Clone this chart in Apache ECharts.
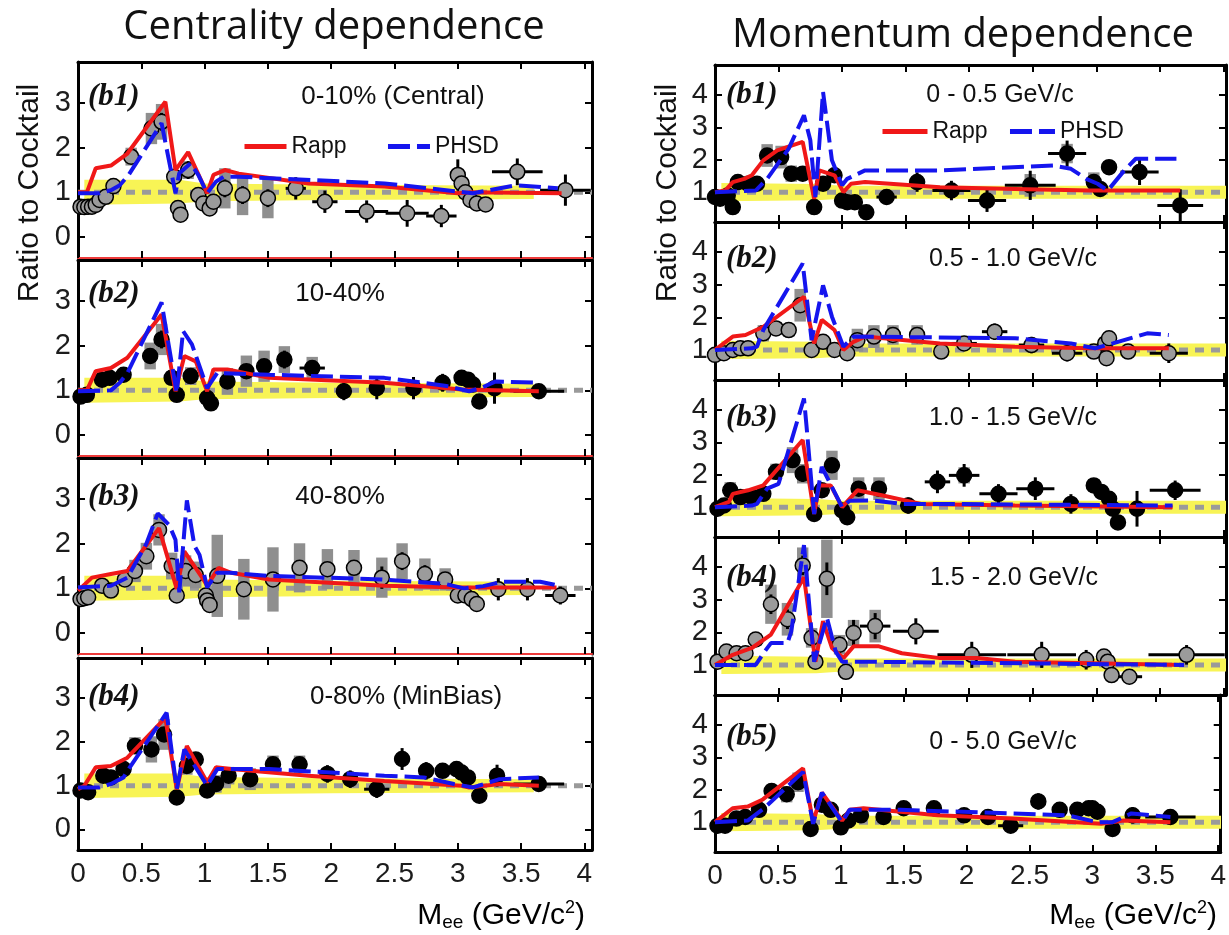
<!DOCTYPE html>
<html>
<head>
    <meta charset="UTF-8">
    <title>Ratio to Cocktail</title>
    <script src="https://cdn.jsdelivr.net/npm/echarts@6/dist/echarts.min.js"></script>
    <style>
        html, body { margin: 0; padding: 0; background: #fff; }
        #main { width: 1229px; height: 935px; }
    </style>
</head>
<body>
<div id="main"></div>
<script type="text/javascript">
    // ---- data: [x, y, xErr, yErr, sysHalf] ----
    var cB1Pts = [[0.02,0.68,0,0.05,0],[0.05,0.67,0,0.05,0],[0.08,0.68,0,0.05,0],[0.11,0.68,0,0.05,0],[0.14,0.72,0,0.05,0],
        [0.17,0.83,0,0.06,0.08],[0.22,0.9,0,0.08,0.1],[0.28,1.14,0,0.08,0.1],[0.42,1.8,0,0.1,0.2],[0.58,2.43,0,0.15,0.35],[0.66,2.58,0,0.2,0.4],
        [0.76,1.35,0,0.15,0.15],[0.79,0.65,0,0.1,0.05],[0.81,0.5,0,0.1,0.05],[0.87,1.5,0,0.2,0.2],[0.95,0.94,0,0.1,0.1],[0.99,0.75,0,0.1,0.1],
        [1.04,0.64,0,0.1,0.1],[1.07,0.79,0,0.1,0.1],[1.16,1.09,0,0.2,0.45],[1.3,0.94,0.05,0.2,0.45],[1.5,0.87,0.06,0.2,0.45],[1.72,1.09,0.08,0.25,0],
        [1.95,0.79,0.1,0.25,0],[2.28,0.57,0.17,0.25,0],[2.6,0.53,0.17,0.3,0],[2.87,0.47,0.12,0.25,0],[3.0,1.39,0,0.35,0],[3.03,1.2,0,0.2,0],
        [3.06,1.0,0,0.15,0],[3.1,0.83,0,0.1,0],[3.15,0.75,0,0.1,0],[3.22,0.73,0,0.1,0],[3.47,1.46,0.2,0.3,0],[3.85,1.05,0.2,0.35,0]];
    var cB2Pts = [[0.02,0.86,0,0.05,0],[0.07,0.9,0,0.05,0],[0.19,1.24,0,0.08,0.1],[0.25,1.28,0,0.08,0.1],[0.36,1.35,0,0.1,0.1],
        [0.57,1.77,0,0.15,0.3],[0.66,2.14,0,0.2,0.35],[0.74,1.28,0,0.15,0.15],[0.78,0.9,0,0.1,0.1],[0.89,1.32,0,0.15,0.2],
        [1.02,0.83,0,0.1,0.1],[1.05,0.71,0,0.1,0.1],[1.18,1.2,0,0.15,0.3],[1.33,1.43,0,0.15,0.35],[1.47,1.54,0.04,0.15,0.35],[1.63,1.69,0.05,0.2,0.3],
        [1.85,1.5,0.1,0.15,0.25],[2.1,0.98,0.05,0.2,0],[2.36,1.05,0.05,0.25,0],[2.65,1.05,0.05,0.25,0],[2.88,1.17,0.05,0.2,0],
        [3.03,1.28,0,0.1,0],[3.08,1.24,0,0.1,0],[3.12,1.13,0,0.1,0],[3.17,0.75,0,0.08,0],[3.29,1.05,0,0.35,0],[3.64,0.98,0.2,0.12,0]];
    var cB3Pts = [[0.02,0.76,0,0.05,0],[0.05,0.78,0,0.05,0],[0.08,0.8,0,0.05,0],[0.19,1.06,0,0.06,0.1],[0.26,0.95,0,0.08,0.1],[0.37,1.2,0,0.08,0.15],
        [0.45,1.39,0,0.1,0.25],[0.54,1.72,0,0.1,0.3],[0.64,2.31,0,0.15,0.35],[0.74,1.5,0,0.15,0.3],[0.78,0.84,0,0.1,0.05],[0.85,1.39,0,0.15,0.35],
        [0.93,1.3,0,0.15,0.3],[1.01,0.84,0,0.1,0.1],[1.02,0.73,0,0.1,0.1],[1.04,0.63,0,0.1,0.1],[1.1,1.28,0,0.15,0.92],[1.31,0.98,0.06,0.15,0.68],
        [1.54,1.2,0.05,0.15,0.72],[1.75,1.46,0.05,0.15,0.55],[1.97,1.43,0.05,0.15,0.45],[2.18,1.46,0.05,0.15,0.4],[2.4,1.24,0.05,0.25,0.45],
        [2.56,1.61,0.05,0.2,0.4],[2.74,1.32,0.05,0.2,0.35],[2.9,1.2,0,0.15,0.25],[3.0,0.84,0,0.08,0],[3.06,0.84,0,0.08,0],[3.11,0.76,0,0.08,0],
        [3.15,0.65,0,0.08,0],[3.32,0.98,0,0.25,0],[3.55,0.98,0,0.25,0],[3.81,0.84,0.12,0.2,0]];
    var cB4Pts = [[0.02,0.89,0,0.05,0],[0.08,0.85,0,0.05,0],[0.2,1.23,0,0.08,0.1],[0.26,1.19,0,0.08,0.1],[0.36,1.38,0,0.08,0.1],[0.45,1.91,0,0.1,0.2],
        [0.58,1.83,0,0.12,0.3],[0.68,2.17,0,0.15,0.35],[0.78,0.73,0,0.1,0.05],[0.86,1.45,0,0.15,0.2],[0.93,1.6,0,0.12,0.15],[1.02,0.89,0,0.1,0.1],
        [1.09,1.04,0,0.1,0.2],[1.19,1.23,0,0.1,0.2],[1.36,1.15,0,0.1,0.25],[1.54,1.49,0.05,0.15,0.2],[1.75,1.49,0.06,0.15,0.2],[1.97,1.27,0.05,0.2,0],
        [2.15,1.15,0.05,0.2,0],[2.36,0.92,0.1,0.2,0],[2.56,1.61,0.06,0.25,0],[2.75,1.34,0.05,0.2,0],[2.88,1.34,0.05,0.15,0],[2.99,1.38,0,0.15,0],
        [3.03,1.3,0,0.1,0],[3.08,1.19,0,0.1,0],[3.17,0.77,0,0.08,0],[3.31,1.23,0,0.25,0],[3.64,1.04,0.2,0.1,0]];

    var mB1Pts = [[0.0,0.85,0,0.1,0],[0.04,0.8,0,0.1,0],[0.1,0.9,0,0.1,0],[0.14,0.54,0,0.1,0],[0.18,1.31,0,0.15,0.15],[0.26,1.26,0,0.15,0.15],
        [0.33,1.26,0,0.15,0.1],[0.41,2.13,0,0.2,0.35],[0.52,2.08,0,0.2,0.35],[0.6,1.57,0,0.2,0.25],[0.69,1.57,0,0.2,0.2],[0.78,0.54,0,0.15,0.1],
        [0.85,1.26,0,0.2,0.2],[0.94,1.52,0,0.2,0.2],[1.0,0.74,0,0.15,0.1],[1.04,0.69,0,0.15,0],[1.1,0.69,0,0.15,0],[1.19,0.38,0,0.15,0],
        [1.35,0.85,0.08,0.2,0.15],[1.59,1.31,0.04,0.3,0],[1.86,1.05,0.15,0.3,0],[2.14,0.74,0.15,0.35,0],[2.48,1.21,0.2,0.45,0.35],
        [2.77,2.19,0.15,0.4,0.3],[2.98,1.31,0,0.2,0.3],[3.03,1.1,0,0.15,0],[3.1,1.77,0,0.2,0],[3.34,1.62,0.15,0.4,0],[3.66,0.59,0.18,0.5,0]];
    var mB2Pts = [[0.0,0.85,0,0.05,0],[0.07,0.9,0,0.05,0],[0.14,1.0,0,0.06,0],[0.2,1.05,0,0.06,0.1],[0.26,1.05,0,0.06,0.1],[0.38,1.51,0,0.1,0.25],
        [0.48,1.66,0,0.1,0.2],[0.58,1.61,0,0.1,0.2],[0.67,2.37,0,0.15,0.5],[0.76,1.0,0,0.1,0.1],[0.85,1.25,0,0.15,0.15],[0.94,1.0,0,0.1,0.1],
        [1.04,0.9,0,0.1,0.1],[1.12,1.3,0,0.1,0.35],[1.25,1.41,0,0.15,0.35],[1.4,1.46,0.05,0.15,0.3],[1.59,1.46,0.06,0.15,0.3],[1.78,0.95,0.05,0.2,0],
        [1.96,1.2,0.1,0.2,0],[2.2,1.56,0.1,0.25,0],[2.49,1.15,0.1,0.25,0],[2.77,0.9,0.12,0.25,0],[2.98,0.95,0,0.15,0],[3.07,1.2,0,0.15,0],
        [3.1,1.36,0,0.15,0],[3.08,0.75,0,0.1,0],[3.25,0.95,0.05,0.1,0],[3.57,0.9,0.15,0.3,0]];
    var mB3Pts = [[0.02,0.95,0,0.1,0],[0.07,1.05,0,0.1,0],[0.12,1.52,0,0.15,0.25],[0.2,1.31,0,0.1,0.15],[0.29,1.31,0,0.1,0.15],[0.38,1.41,0,0.1,0.15],
        [0.48,2.09,0,0.15,0.25],[0.61,2.45,0,0.2,0.4],[0.69,2.03,0,0.25,0.3],[0.78,0.79,0,0.15,0.1],[0.84,1.52,0,0.2,0.2],[0.92,2.29,0,0.2,0.45],
        [1.0,0.9,0,0.15,0.1],[1.04,0.69,0,0.15,0.1],[1.13,1.57,0,0.2,0.35],[1.29,1.57,0,0.2,0.35],[1.52,1.05,0.06,0.25,0],[1.75,1.78,0.1,0.35,0],
        [1.96,1.98,0.12,0.35,0.25],[2.23,1.41,0.15,0.3,0],[2.52,1.57,0.15,0.35,0.2],[2.8,1.1,0.05,0.3,0],[2.98,1.67,0,0.2,0.2],[3.04,1.47,0,0.15,0],
        [3.1,1.26,0,0.15,0],[3.13,0.95,0,0.15,0],[3.17,0.53,0,0.15,0],[3.32,0.95,0.05,0.55,0],[3.62,1.52,0.2,0.3,0]];
    var mB4Pts = [[0.02,1.1,0,0.1,0],[0.09,1.41,0,0.15,0.15],[0.17,1.36,0,0.15,0.15],[0.24,1.36,0,0.15,0.15],[0.32,1.78,0,0.15,0.2],
        [0.44,2.86,0,0.3,0.6],[0.57,2.4,0,0.3,0.5],[0.69,4.05,0,0.3,0.55],[0.76,1.83,0,0.25,0.3],[0.79,1.1,0,0.2,0.2],[0.88,3.64,0,0.5,1.2],
        [0.98,1.62,0,0.25,0.3],[1.03,0.79,0,0.15,0.1],[1.09,1.98,0,0.4,0.4],[1.26,2.19,0.12,0.4,0.5],[1.58,2.03,0.18,0.4,0],[2.02,1.31,0.27,0.4,0.2],
        [2.57,1.31,0.27,0.4,0.2],[2.92,1.16,0.03,0.3,0],[3.06,1.26,0,0.2,0],[3.09,1.1,0,0.2,0],[3.12,0.69,0,0.2,0],[3.26,0.64,0.1,0.15,0],[3.71,1.31,0.3,0.3,0]];
    var mB5Pts = [[0.02,0.89,0,0.05,0],[0.08,0.89,0,0.05,0],[0.17,1.11,0,0.06,0.1],[0.24,1.16,0,0.06,0.1],[0.35,1.38,0,0.06,0.1],[0.45,1.96,0,0.1,0.2],
        [0.57,1.86,0,0.1,0.25],[0.66,2.23,0,0.12,0.3],[0.76,0.79,0,0.1,0.05],[0.85,1.54,0,0.1,0.2],[0.92,1.38,0,0.1,0.15],[1.0,0.84,0,0.08,0.1],
        [1.06,1.05,0,0.08,0.15],[1.16,1.21,0,0.08,0.2],[1.34,1.16,0,0.1,0.2],[1.5,1.43,0.05,0.15,0.15],[1.74,1.43,0.05,0.15,0.15],[1.98,1.21,0.05,0.15,0],
        [2.17,1.16,0.05,0.15,0],[2.35,0.89,0.1,0.15,0],[2.57,1.64,0.06,0.25,0],[2.74,1.38,0.05,0.15,0],[2.88,1.38,0.05,0.15,0],[2.97,1.43,0,0.12,0],
        [3.0,1.43,0,0.12,0],[3.04,1.32,0,0.1,0],[3.16,0.79,0,0.08,0],[3.32,1.21,0,0.25,0],[3.62,1.16,0.2,0.1,0]];

    // ---- model curves [x, y] ----
    var cB1Rapp = [[0,1.0],[0.07,1.0],[0.14,1.54],[0.26,1.6],[0.39,1.87],[0.69,3.03],[0.77,1.5],[0.87,1.9],[1.02,0.98],[1.07,1.39],[1.16,1.5],[1.27,1.42],[1.82,1.2],[2.42,1.13],[3.0,0.98],[3.09,1.0],[3.82,0.98]];
    var cB1Phsd = [[0,0.98],[0.17,0.98],[0.26,1.05],[0.33,1.16],[0.4,1.39],[0.66,2.55],[0.77,0.98],[0.8,1.43],[0.89,1.65],[0.95,1.39],[1.02,0.98],[1.09,1.24],[1.15,1.35],[1.27,1.35],[2.42,1.2],[3.03,1.01],[3.12,0.98],[3.46,1.16],[3.79,1.09]];
    var cB2Rapp = [[0,1],[0.07,1.0],[0.14,1.43],[0.26,1.5],[0.39,1.73],[0.66,2.7],[0.77,0.98],[0.84,1.77],[0.93,1.65],[1.02,0.98],[1.07,1.47],[1.18,1.47],[1.51,1.28],[2.42,1.17],[3.03,1.02],[3.64,0.98]];
    var cB2Phsd = [[0,0.98],[0.26,1.0],[0.33,1.17],[0.39,1.39],[0.66,2.97],[0.78,0.94],[0.83,2.33],[0.9,2.03],[1.02,1.05],[1.1,1.39],[1.51,1.35],[2.42,1.28],[2.73,1.17],[2.91,1.1],[3.09,0.98],[3.18,1.05],[3.3,1.2],[3.64,1.17]];
    var cB3Rapp = [[0,0.95],[0.11,1.24],[0.26,1.32],[0.39,1.39],[0.64,2.35],[0.78,0.99],[0.84,1.83],[0.99,1.2],[1.02,1.06],[1.11,1.46],[1.21,1.35],[1.51,1.2],[2.42,1.06],[3.03,1.02],[3.78,1.02]];
    var cB3Phsd = [[0,1.02],[0.26,1.06],[0.39,1.24],[0.54,2.0],[0.63,2.68],[0.72,2.42],[0.77,2.09],[0.8,0.91],[0.86,2.97],[0.92,1.95],[0.96,1.75],[1.02,1.02],[1.1,1.35],[1.2,1.35],[1.5,1.28],[2.4,1.2],[2.9,1.1],[3.05,1.0],[3.2,1.05],[3.35,1.15],[3.65,1.15],[3.8,1.06]];
    var cB4Rapp = [[0,0.92],[0.05,1.0],[0.14,1.42],[0.26,1.45],[0.39,1.64],[0.69,2.55],[0.78,0.92],[0.86,1.91],[1.02,1.08],[1.09,1.42],[1.21,1.38],[1.82,1.23],[2.42,1.11],[3.03,1.0],[3.09,0.96],[3.33,1.04],[3.64,1.0]];
    var cB4Phsd = [[0,0.96],[0.17,0.96],[0.26,1.04],[0.36,1.19],[0.4,1.38],[0.7,2.67],[0.78,0.92],[0.84,1.83],[1.02,1.0],[1.1,1.38],[1.51,1.38],[2.42,1.23],[2.73,1.19],[2.97,1.04],[3.12,0.96],[3.33,1.15],[3.64,1.19]];

    var mB1Rapp = [[0,1],[0.08,1.05],[0.14,1.31],[0.23,1.41],[0.29,1.52],[0.38,1.98],[0.49,2.29],[0.69,2.55],[0.78,0.79],[0.82,1.67],[0.94,1.52],[1.01,1.0],[1.07,1.26],[1.18,1.31],[1.77,1.15],[2.36,1.1],[2.95,1.05],[3.66,1.05]];
    var mB1Phsd = [[0,1],[0.32,1.05],[0.41,1.41],[0.58,2.34],[0.7,3.37],[0.75,2.6],[0.79,0.85],[0.85,4.09],[0.92,1.98],[1.0,1.21],[1.04,1.41],[1.18,1.67],[1.77,1.67],[2.66,1.82],[2.8,1.72],[2.92,1.41],[3.01,1.26],[3.09,1.05],[3.22,1.67],[3.31,2.03],[3.63,2.03]];
    var mB2Rapp = [[0,1],[0.14,1.41],[0.24,1.46],[0.38,1.71],[0.7,2.63],[0.78,1.2],[0.84,1.92],[0.94,1.61],[1.01,1.0],[1.09,1.25],[1.18,1.41],[1.77,1.2],[2.36,1.1],[2.95,1.05],[3.57,1.05]];
    var mB2Phsd = [[0,1],[0.29,1.05],[0.33,1.1],[0.38,1.61],[0.69,3.65],[0.76,1.3],[0.85,2.98],[0.92,2.02],[1.01,1.1],[1.09,1.41],[2.36,1.36],[2.8,1.2],[2.99,1.05],[3.13,1.2],[3.4,1.51],[3.57,1.46]];
    var mB3Rapp = [[0,1],[0.11,1.16],[0.14,1.41],[0.26,1.52],[0.38,1.67],[0.69,3.07],[0.78,0.79],[0.82,1.67],[0.91,1.67],[1.0,1.0],[1.12,1.52],[1.32,1.36],[1.62,1.1],[2.36,1.05],[3.6,1.0]];
    var mB3Phsd = [[0,1],[0.29,1.05],[0.33,1.1],[0.41,1.57],[0.5,1.72],[0.7,4.35],[0.72,3.5],[0.78,0.79],[0.84,2.24],[1.0,1.0],[1.06,1.2],[1.23,1.21],[1.47,1.1],[1.77,1.1],[3.6,1.05]];
    var mB4Rapp = [[0,1],[0.14,1.31],[0.29,1.52],[0.44,1.93],[0.64,3.27],[0.7,3.69],[0.79,1.1],[0.85,2.34],[0.92,1.52],[1.01,1.21],[1.09,1.57],[1.29,1.57],[1.47,1.36],[1.77,1.21],[2.06,1.21],[2.36,1.1],[3.69,1.0]];
    var mB4Phsd = [[0,1],[0.32,1.0],[0.39,1.41],[0.44,1.67],[0.57,1.67],[0.6,2.03],[0.7,4.67],[0.78,1.1],[0.88,2.45],[0.95,1.41],[1.0,1.1],[1.18,1.1],[3.69,1.0]];
    var mB5Rapp = [[0,1],[0.14,1.43],[0.26,1.48],[0.38,1.7],[0.7,2.66],[0.78,1.0],[0.85,1.91],[1.01,1.05],[1.07,1.38],[1.18,1.43],[1.77,1.21],[2.36,1.11],[3.07,0.95],[3.25,1.05],[3.62,1.0]];
    var mB5Phsd = [[0,1],[0.26,1.05],[0.39,1.43],[0.7,2.55],[0.78,0.95],[0.85,1.91],[1.01,1.0],[1.07,1.38],[1.47,1.38],[2.36,1.27],[2.8,1.21],[3.04,1.0],[3.16,1.0],[3.31,1.27],[3.62,1.16]];

    // cocktail uncertainty band [x, lo, hi]
    var bandCent = [[0.05,0.72,1.28],[0.8,0.75,1.28],[1.0,0.8,1.2],[2.0,0.83,1.17],[3.6,0.85,1.15]];
    var bandMom = [[0.05,0.72,1.28],[0.8,0.75,1.25],[1.0,0.8,1.2],[2.0,0.8,1.2],[4.1,0.8,1.2]];

    var xTicks = [0, 0.5, 1, 1.5, 2, 2.5, 3, 3.5, 4];
    var yTicksCent = [0, 1, 2, 3];
    var yTicksMom = [1, 2, 3, 4];
    var unity = 1;

    var panels = [
        {left: 78, top: 62, width: 514, height: 196, xMax: 4.06, yMin: -0.47, yMax: 3.92, yTicks: yTicksCent, pts: cB1Pts, fill: '#9b9b9b', rapp: cB1Rapp, phsd: cB1Phsd, band: bandCent, xLabels: false, bottom: '#ee3b3b'},
        {left: 78, top: 260, width: 514, height: 196, xMax: 4.06, yMin: -0.47, yMax: 3.92, yTicks: yTicksCent, pts: cB2Pts, fill: '#000', rapp: cB2Rapp, phsd: cB2Phsd, band: bandCent, xLabels: false, bottom: '#ee3b3b'},
        {left: 78, top: 458, width: 514, height: 196, xMax: 4.06, yMin: -0.47, yMax: 3.92, yTicks: yTicksCent, pts: cB3Pts, fill: '#9b9b9b', rapp: cB3Rapp, phsd: cB3Phsd, band: bandCent, xLabels: false, bottom: '#ee3b3b'},
        {left: 78, top: 658, width: 514, height: 192, xMax: 4.06, yMin: -0.47, yMax: 3.92, yTicks: yTicksCent, pts: cB4Pts, fill: '#000', rapp: cB4Rapp, phsd: cB4Phsd, band: bandCent, xLabels: true, bottom: '#000'},
        {left: 715, top: 65, width: 511, height: 157, xMax: 4.02, yMin: 0.08, yMax: 4.92, yTicks: yTicksMom, pts: mB1Pts, fill: '#000', rapp: mB1Rapp, phsd: mB1Phsd, band: bandMom, xLabels: false, bottom: '#000'},
        {left: 715, top: 222, width: 511, height: 158, xMax: 4.02, yMin: 0.08, yMax: 4.92, yTicks: yTicksMom, pts: mB2Pts, fill: '#9b9b9b', rapp: mB2Rapp, phsd: mB2Phsd, band: bandMom, xLabels: false, bottom: '#000'},
        {left: 715, top: 380, width: 511, height: 157, xMax: 4.02, yMin: 0.08, yMax: 4.92, yTicks: yTicksMom, pts: mB3Pts, fill: '#000', rapp: mB3Rapp, phsd: mB3Phsd, band: bandMom, xLabels: false, bottom: '#000'},
        {left: 715, top: 537, width: 511, height: 158, xMax: 4.02, yMin: 0.08, yMax: 4.92, yTicks: yTicksMom, pts: mB4Pts, fill: '#9b9b9b', rapp: mB4Rapp, phsd: mB4Phsd, band: bandMom, xLabels: false, bottom: '#000'},
        {left: 715, top: 695, width: 511, height: 157, xMax: 4.02, yMin: 0.08, yMax: 4.92, yTicks: yTicksMom, pts: mB5Pts, fill: '#000', rapp: mB5Rapp, phsd: mB5Phsd, band: bandMom, xLabels: true, bottom: '#000'}
    ];

    var FONT = "'Liberation Sans', Arial, sans-serif";
    var TICK_COLOR = '#1c1c1c';

    function bandItem(band) {
        return function (params, api) {
            if (params.dataIndex !== 0) return;
            var pts = [];
            for (var i = 0; i < band.length; i++) pts.push(api.coord([band[i][0], band[i][2]]));
            for (var j = band.length - 1; j >= 0; j--) pts.push(api.coord([band[j][0], band[j][1]]));
            return {type: 'polygon', shape: {points: pts}, style: {fill: '#f8f455'}};
        };
    }

    function boxItem(params, api) {
        var s = api.value(4);
        if (!s) return;
        var x = api.value(0), y = api.value(1);
        var a = api.coord([x - 0.045, y + s]);
        var b = api.coord([x + 0.045, y - s]);
        return {type: 'rect', shape: {x: a[0], y: a[1], width: b[0] - a[0], height: b[1] - a[1]}, style: {fill: '#8f8f8f'}};
    }

    function errItem(params, api) {
        var x = api.value(0), y = api.value(1), xe = api.value(2), ye = api.value(3);
        var kids = [];
        if (ye) {
            var a = api.coord([x, y + ye]), b = api.coord([x, y - ye]);
            kids.push({type: 'line', shape: {x1: a[0], y1: a[1], x2: b[0], y2: b[1]}, style: {stroke: '#000', lineWidth: 3}});
        }
        if (xe) {
            var c = api.coord([x - xe, y]), d = api.coord([x + xe, y]);
            kids.push({type: 'line', shape: {x1: c[0], y1: c[1], x2: d[0], y2: d[1]}, style: {stroke: '#000', lineWidth: 3}});
        }
        return {type: 'group', children: kids};
    }

    var grids = [], xAxes = [], yAxes = [], series = [];
    panels.forEach(function (p, i) {
        grids.push({left: p.left, top: p.top, width: p.width, height: p.height});
        var tick = {inside: true, length: 7, lineStyle: {color: '#000', width: 2}, customValues: xTicks};
        xAxes.push({gridIndex: i, type: 'value', min: 0, max: p.xMax, position: 'bottom',
            axisLine: {onZero: false, lineStyle: {color: p.bottom, width: p.bottom === '#000' ? 3 : 2}},
            axisTick: tick,
            axisLabel: {show: p.xLabels, customValues: xTicks, fontFamily: FONT, fontSize: 28, color: TICK_COLOR, margin: 10},
            splitLine: {show: false}});
        xAxes.push({gridIndex: i, type: 'value', min: 0, max: p.xMax, position: 'top',
            axisLine: {onZero: false, lineStyle: {color: '#000', width: 3}},
            axisTick: tick, axisLabel: {show: false}, splitLine: {show: false}});
        var ytick = {inside: true, length: 7, lineStyle: {color: '#000', width: 2}, customValues: p.yTicks};
        yAxes.push({gridIndex: i, type: 'value', min: p.yMin, max: p.yMax, position: 'left',
            axisLine: {onZero: false, lineStyle: {color: '#000', width: 3}},
            axisTick: ytick,
            axisLabel: {customValues: p.yTicks, fontFamily: FONT, fontSize: 29, color: TICK_COLOR, margin: 7},
            splitLine: {show: false}});
        yAxes.push({gridIndex: i, type: 'value', min: p.yMin, max: p.yMax, position: 'right',
            axisLine: {onZero: false, lineStyle: {color: '#000', width: 3}},
            axisTick: ytick, axisLabel: {show: false}, splitLine: {show: false}});

        var ax = {xAxisIndex: 2 * i, yAxisIndex: 2 * i};
        series.push(Object.assign({type: 'custom', clip: true, silent: true, z: 1, data: p.band, renderItem: bandItem(p.band)}, ax));
        series.push(Object.assign({type: 'line', silent: true, z: 2, symbol: 'none', data: [[0, unity], [p.xMax, unity]],
            lineStyle: {color: '#9a9a9a', width: 5, type: [9, 7]}}, ax));
        series.push(Object.assign({type: 'custom', clip: true, silent: true, z: 3, data: p.pts, renderItem: boxItem}, ax));
        series.push(Object.assign({type: 'custom', clip: true, silent: true, z: 4, data: p.pts, renderItem: errItem}, ax));
        series.push(Object.assign({type: 'scatter', silent: true, z: 5, data: p.pts, symbolSize: 15,
            itemStyle: {color: p.fill, borderColor: '#000', borderWidth: 1.5, opacity: 1}}, ax));
        series.push(Object.assign({type: 'line', name: 'Rapp', z: 6, symbol: 'none', data: p.rapp,
            lineStyle: {color: '#f01818', width: 4}}, ax));
        series.push(Object.assign({type: 'line', name: 'PHSD', z: 7, symbol: 'none', data: p.phsd,
            lineStyle: {color: '#1515ee', width: 4, type: [22, 7]}}, ax));
    });

    // text placed on the page
    function txt(x, y, s, font, align, extra) {
        var o = {type: 'text', x: x, y: y, z: 100, style: {text: s, font: font, fill: '#111', align: align || 'center', verticalAlign: 'middle'}};
        if (extra) Object.assign(o, extra);
        return o;
    }
    var tagFont = "italic bold 31px 'Liberation Serif', serif";
    var capCent = "26px " + FONT;
    var capMom = "25px " + FONT;
    var graphics = [
        txt(334, 28, 'Centrality dependence', "40px 'Open Sans', sans-serif"),
        txt(963, 36, 'Momentum dependence', "40px 'Open Sans', sans-serif"),
        txt(30, 193, 'Ratio to Cocktail', "30px " + FONT, 'center', {rotation: Math.PI / 2}),
        txt(668, 193, 'Ratio to Cocktail', "30px " + FONT, 'center', {rotation: Math.PI / 2}),
        txt(88, 97, '(b1)', tagFont, 'left'), txt(393, 97, '0-10% (Central)', capCent),
        txt(88, 294, '(b2)', tagFont, 'left'), txt(340, 294, '10-40%', capCent),
        txt(88, 497, '(b3)', tagFont, 'left'), txt(340, 497, '40-80%', capCent),
        txt(88, 697, '(b4)', tagFont, 'left'), txt(406, 697, '0-80% (MinBias)', capCent),
        txt(726, 95, '(b1)', tagFont, 'left'), txt(1000, 95, '0 - 0.5 GeV/c', capMom),
        txt(726, 259, '(b2)', tagFont, 'left'), txt(1013, 259, '0.5 - 1.0 GeV/c', capMom),
        txt(726, 418, '(b3)', tagFont, 'left'), txt(1013, 418, '1.0 - 1.5 GeV/c', capMom),
        txt(726, 578, '(b4)', tagFont, 'left'), txt(1014, 578, '1.5 - 2.0 GeV/c', capMom),
        txt(726, 737, '(b5)', tagFont, 'left'), txt(1003, 742, '0 - 5.0 GeV/c', capMom)
    ];
    var meeRich = {
        m: {fontSize: 30, fontFamily: FONT, color: '#111'},
        s: {fontSize: 19, fontFamily: FONT, color: '#111', verticalAlign: 'bottom', padding: [14, 0, 0, 0]},
        p: {fontSize: 18, fontFamily: FONT, color: '#111', verticalAlign: 'top', padding: [0, 0, 14, 0]}
    };
    [[585, 916], [1217, 916]].forEach(function (pos) {
        graphics.push({type: 'text', x: pos[0], y: pos[1], z: 100, style: {
            text: '{m|M}{s|ee}{m| (GeV/c}{p|2}{m|)}', rich: meeRich, align: 'right', verticalAlign: 'middle'}});
    });

    var legendBase = {data: ['Rapp', 'PHSD'], orient: 'horizontal', itemHeight: 12, selectedMode: false,
        textStyle: {fontFamily: FONT, fontSize: 23, color: '#111'}, lineStyle: {width: 5}, itemStyle: {opacity: 0}};

    var chart = echarts.init(document.getElementById('main'));
    chart.setOption({
        animation: false,
        backgroundColor: '#fff',
        grid: grids,
        xAxis: xAxes,
        yAxis: yAxes,
        legend: [
            Object.assign({left: 237, top: 130, itemWidth: 42, itemGap: 39}, legendBase),
            Object.assign({left: 875, top: 115, itemWidth: 45, itemGap: 20}, legendBase)
        ],
        graphic: graphics,
        series: series
    });
</script>
</body>
</html>
